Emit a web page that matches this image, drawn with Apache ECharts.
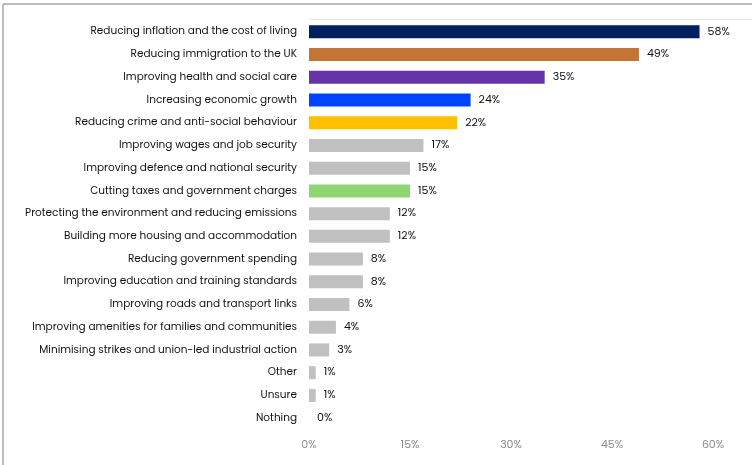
<!DOCTYPE html>
<html>
<head>
<meta charset="utf-8">
<script src="https://cdn.jsdelivr.net/npm/echarts@6/dist/echarts.min.js"></script>
<style>
  html, body { margin: 0; padding: 0; background: #ffffff; }
  #chart { width: 752px; height: 465px; }
</style>
</head>
<body>
<div id="chart"></div>
<script>
// Survey priorities, share of respondents (%)
const categories = [
  'Reducing inflation and the cost of living',
  'Reducing immigration to the UK',
  'Improving health and social care',
  'Increasing economic growth',
  'Reducing crime and anti-social behaviour',
  'Improving wages and job security',
  'Improving defence and national security',
  'Cutting taxes and government charges',
  'Protecting the environment and reducing emissions',
  'Building more housing and accommodation',
  'Reducing government spending',
  'Improving education and training standards',
  'Improving roads and transport links',
  'Improving amenities for families and communities',
  'Minimising strikes and union-led industrial action',
  'Other',
  'Unsure',
  'Nothing'
];
const values = [58, 49, 35, 24, 22, 17, 15, 15, 12, 12, 8, 8, 6, 4, 3, 1, 1, 0];
const barColors = [
  '#01205f', '#c47434', '#6634a8', '#0044ff', '#ffc000', '#c0c0c0',
  '#c0c0c0', '#8dd672', '#c0c0c0', '#c0c0c0', '#c0c0c0', '#c0c0c0',
  '#c0c0c0', '#c0c0c0', '#c0c0c0', '#c0c0c0', '#c0c0c0', '#c0c0c0'
];
const xTicks = [0, 15, 30, 45, 60];

const FONT = 'Poppins, "Open Sans", sans-serif';

const chart = echarts.init(document.getElementById('chart'), null, { renderer: 'canvas' });
chart.setOption({
  animation: false,
  backgroundColor: '#ffffff',
  graphic: [
    // frame around the figure
    { type: 'line', shape: { x1: 3, y1: 4, x2: 752, y2: 4 }, style: { stroke: '#bdbdbd', lineWidth: 2 }, silent: true },
    { type: 'line', shape: { x1: 3, y1: 4, x2: 3, y2: 465 }, style: { stroke: '#bdbdbd', lineWidth: 2 }, silent: true },
    // faint rule along the top of the plot
    { type: 'line', shape: { x1: 309, y1: 19.5, x2: 752, y2: 19.5 }, style: { stroke: '#e6e6e6', lineWidth: 1 }, silent: true }
  ],
  grid: { left: 309, right: 39, top: 20.5, bottom: 35.5, containLabel: false },
  xAxis: {
    type: 'value',
    min: 0,
    max: 60,
    interval: 15,
    axisLine: { show: false },
    axisTick: { show: false },
    splitLine: { show: false },
    axisLabel: {
      color: '#8a8a8a',
      fontFamily: FONT,
      fontSize: 11,
      margin: 10,
      formatter: v => (xTicks.includes(v) ? v + '%' : '')
    }
  },
  yAxis: {
    type: 'category',
    inverse: true,
    data: categories,
    axisLine: { show: false },
    axisTick: { show: false },
    axisLabel: { color: '#111111', fontFamily: FONT, fontSize: 10.5, margin: 12 }
  },
  series: [{
    type: 'bar',
    data: values.map((v, i) => ({ value: v, itemStyle: { color: barColors[i] } })),
    barWidth: 13,
    label: {
      show: true,
      position: 'right',
      distance: 8,
      color: '#111111',
      fontFamily: FONT,
      fontSize: 11,
      formatter: p => p.value + '%'
    }
  }]
});
</script>
</body>
</html>
